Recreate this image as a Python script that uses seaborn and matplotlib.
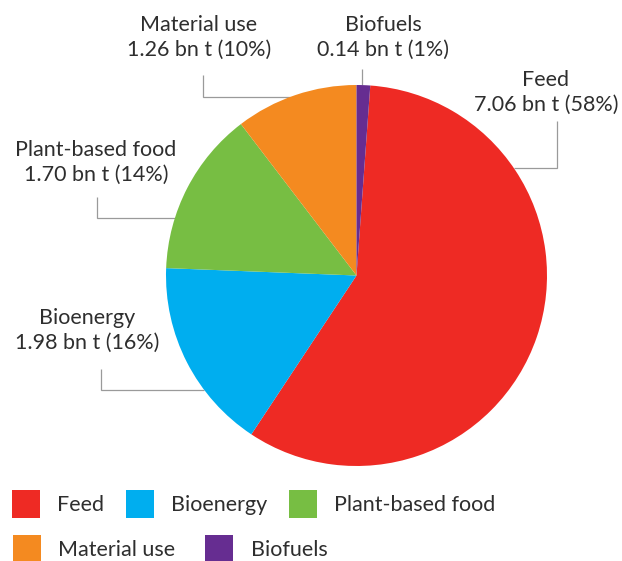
import numpy as np
import matplotlib.pyplot as plt
import seaborn as sns

# Global biomass use, billion tonnes
categories = ['Feed', 'Bioenergy', 'Plant-based food', 'Material use', 'Biofuels']
tonnes_bn = [7.06, 1.98, 1.70, 1.26, 0.14]
percent = [58, 16, 14, 10, 1]
colors = ['#ee2a24', '#00aeef', '#77be43', '#f48a20', '#662d91']

TEXT = '#2e2e2e'
LINE = '#9a9a9a'

# canvas and pie geometry in pixels
W, H = 622, 561
CX, CY, R = 356.5, 275.5, 190.5

# label centre (px), leader x (px, None = straight down), leader top (px),
# and where along the wedge the leader touches (0..1)
label_layout = {
    'Feed':             dict(text=(546, 92),  line_x=557,  line_top=121, frac=0.754),
    'Bioenergy':        dict(text=(87, 330),  line_x=101,  line_top=369, frac=0.668),
    'Plant-based food': dict(text=(96, 162),  line_x=97,   line_top=197, frac=0.695),
    'Material use':     dict(text=(199, 37),  line_x=203,  line_top=75,  frac=0.547),
    'Biofuels':         dict(text=(383, 37),  line_x=None, line_top=69,  frac=0.58),
}


def px(x, y):
    """Convert canvas pixels to pie data units."""
    return (x - CX) / R, (CY - y) / R


sns.set_theme(style='white')
plt.rcParams['font.family'] = ['Lato', 'DejaVu Sans']

fig = plt.figure(figsize=(W / 100, H / 100), dpi=100)
ax = fig.add_axes([0, 0, 1, 1])

# the small Biofuels slice sits just right of 12 o'clock, Feed follows it
start = 90 - 360 * tonnes_bn[-1] / sum(tonnes_bn)
wedges, _ = ax.pie(
    tonnes_bn,
    colors=colors,
    startangle=start,
    counterclock=False,
    radius=1,
    wedgeprops=dict(linewidth=0),
)

ax.set_xlim(-CX / R, (W - CX) / R)
ax.set_ylim((CY - H) / R, CY / R)
ax.set_aspect('equal')
ax.axis('off')

# elbow leader lines + two-line labels
for w, name, t, p in zip(wedges, categories, tonnes_bn, percent):
    lay = label_layout[name]
    ang = np.deg2rad(w.theta1 + lay['frac'] * (w.theta2 - w.theta1))
    ex, ey = np.cos(ang), np.sin(ang)
    lx = ex if lay['line_x'] is None else px(lay['line_x'], 0)[0]
    top = px(0, lay['line_top'])[1]
    ax.plot([ex, lx, lx], [ey, ey, top], color=LINE, lw=0.9, zorder=0.5,
            solid_capstyle='butt', solid_joinstyle='miter')

    tx, ty = px(*lay['text'])
    ax.text(tx, ty, f'{name}\n{t:.2f} bn t ({p}%)', ha='center', va='center',
            fontsize=15.5, linespacing=1.3, color=TEXT)

# legend is laid out in two flowing rows
leg_kw = dict(loc='upper left', frameon=False, fontsize=15.5,
              handlelength=1.3, handleheight=1.62, handletextpad=0.8,
              borderpad=0, borderaxespad=0, labelcolor=TEXT)
fig.legend(wedges[:3], categories[:3], ncol=3, columnspacing=1.0,
           bbox_to_anchor=(12 / W, 1 - 490 / H), **leg_kw)
fig.legend(wedges[3:], categories[3:], ncol=2, columnspacing=1.4,
           bbox_to_anchor=(13 / W, 1 - 535 / H), **leg_kw)

fig.savefig('out.png', dpi=100)
